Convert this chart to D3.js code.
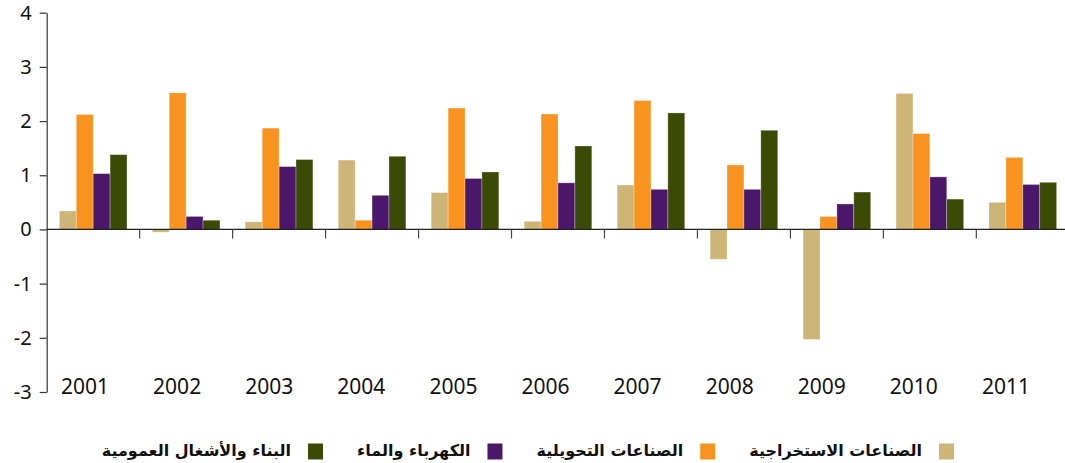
<!DOCTYPE html>
<html>
<head>
<meta charset="utf-8">
<script src="https://cdn.jsdelivr.net/npm/d3@7/dist/d3.min.js"></script>
<style>
  body { margin: 0; background: #fff; }
  .axis text { font-family: "Noto Sans", sans-serif; fill: #111; }
  .legend text { font-family: "DejaVu Sans", sans-serif; fill: #111; }
</style>
</head>
<body>
<div class="js-d3"></div>
<script>
const years = ["2001", "2002", "2003", "2004", "2005", "2006", "2007", "2008", "2009", "2010", "2011"];
const seriesNames = [
  "الصناعات الاستخراجية",
  "الصناعات التحويلية",
  "الكهرباء والماء",
  "البناء والأشغال العمومية"
];
const extractive = [0.34, -0.05, 0.14, 1.28, 0.68, 0.15, 0.82, -0.55, -2.03, 2.51, 0.50];
const manufacturing = [2.12, 2.52, 1.87, 0.17, 2.24, 2.13, 2.38, 1.19, 0.24, 1.77, 1.33];
const electricity = [1.03, 0.24, 1.16, 0.63, 0.94, 0.86, 0.74, 0.74, 0.47, 0.97, 0.83];
const construction = [1.38, 0.17, 1.29, 1.35, 1.06, 1.54, 2.15, 1.83, 0.69, 0.56, 0.87];
const yTicks = [-3, -2, -1, 0, 1, 2, 3, 4];
const colors = ["#cdb577", "#f7931e", "#4b176b", "#3b4a04"];

const w = 1065;
const h = 463;

const allSeries = [extractive, manufacturing, electricity, construction];
const rows = years.map((yr, i) => ({
  year: yr,
  values: allSeries.map((s, k) => ({ key: k, value: s[i] }))
}));

const svg = d3
  .select(".js-d3")
  .append("svg")
  .attr("width", w)
  .attr("height", h);

const x0 = d3.scaleBand().domain(years).range([46.7, 1069.3]);
const x1 = d3
  .scaleBand()
  .domain(d3.range(seriesNames.length))
  .range([0, x0.bandwidth()])
  .paddingOuter(0.75);
// year labels sit on a slightly tighter spacing than the bars
const xLabel = d3.scaleBand().domain(years).range([39, 1052]);
const y = d3.scaleLinear().domain([-3, 4]).range([392, 12.7]);

// bars
const group = svg
  .selectAll("g.year")
  .data(rows)
  .enter()
  .append("g")
  .attr("class", "year")
  .attr("transform", (d) => `translate(${x0(d.year)},0)`);

group
  .selectAll("rect")
  .data((d) => d.values)
  .enter()
  .append("rect")
  .attr("x", (d) => x1(d.key))
  .attr("width", x1.bandwidth())
  .attr("y", (d) => y(Math.max(0, d.value)))
  .attr("height", (d) => Math.abs(y(d.value) - y(0)))
  .attr("fill", (d) => colors[d.key])
  .attr("stroke", "#fff")
  .attr("stroke-opacity", 0.35)
  .attr("stroke-width", 0.8);

// y axis
const yAxis = svg
  .append("g")
  .attr("class", "axis")
  .attr("transform", "translate(46.7,0)")
  .call(
    d3
      .axisLeft(y)
      .tickValues(yTicks)
      .tickFormat((d) => String(d))
      .tickSize(7)
      .tickSizeOuter(0)
      .tickPadding(8)
  );
yAxis.selectAll("text").style("font-size", "20px");
yAxis.selectAll("line, path").attr("stroke", "#333").attr("stroke-width", 1.2);

// x baseline + separators
svg
  .append("line")
  .attr("x1", 46.7)
  .attr("x2", w)
  .attr("y1", y(0))
  .attr("y2", y(0))
  .attr("stroke", "#222")
  .attr("stroke-width", 1.3);

svg
  .selectAll("line.sep")
  .data(years.slice(1))
  .enter()
  .append("line")
  .attr("class", "sep")
  .attr("x1", (d) => x0(d))
  .attr("x2", (d) => x0(d))
  .attr("y1", y(0))
  .attr("y2", y(0) + 9)
  .attr("stroke", "#444")
  .attr("stroke-width", 1.2);

// year labels
svg
  .append("g")
  .attr("class", "axis")
  .selectAll("text")
  .data(years)
  .enter()
  .append("text")
  .attr("x", (d) => xLabel(d) + xLabel.bandwidth() / 2)
  .attr("y", 394)
  .attr("text-anchor", "middle")
  .style("font-size", "21px")
  .text((d) => d);

// legend, laid out right to left
const legend = svg.append("g").attr("class", "legend");
let cursor = 954;
seriesNames.forEach((name, k) => {
  legend
    .append("rect")
    .attr("x", cursor - 15)
    .attr("y", 443.5)
    .attr("width", 15)
    .attr("height", 16)
    .attr("fill", colors[k]);
  const t = legend
    .append("text")
    .attr("x", cursor - 15 - 17)
    .attr("y", 456)
    .attr("text-anchor", "end")
    .style("font-size", "16px")
    .style("font-weight", "bold")
    .text(name);
  const tw = t.node().getComputedTextLength();
  cursor = cursor - 15 - 17 - tw - 34;
});
</script>
</body>
</html>
